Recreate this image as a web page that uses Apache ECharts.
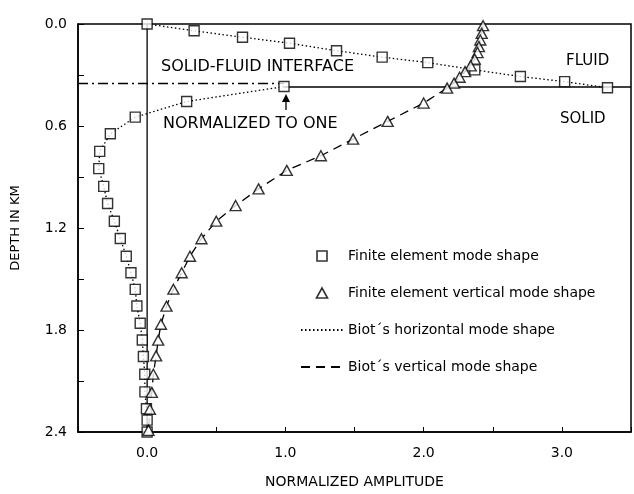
<!DOCTYPE html>
<html>
<head>
<meta charset="utf-8">
<script src="https://cdn.jsdelivr.net/npm/echarts@6/dist/echarts.min.js"></script>
<style>
html,body{margin:0;padding:0;background:#fff;}
#chart{width:634px;height:494px;}
</style>
</head>
<body>
<div id="chart"></div>
<script>
// ---- data ----
const seriesNames = ['Finite element mode shape', 'Finite element vertical mode shape', 'Biot\u00B4s horizontal mode shape', 'Biot\u00B4s vertical mode shape'];
const xTickLabels = ['0.0', '1.0', '2.0', '3.0'];
const yTickLabels = ['0.0', '0.6', '1.2', '1.8', '2.4'];

// finite element (horizontal) mode shape, squares — fluid layer
const sqFluidAmp   = [0, 0.34, 0.69, 1.03, 1.37, 1.70, 2.03, 2.37, 2.70, 3.02, 3.33];
const sqFluidDepth = [0, 0.04, 0.078, 0.113, 0.157, 0.195, 0.227, 0.27, 0.309, 0.339, 0.375];
// squares — solid layer
const sqSolidAmp   = [0.99, 0.286, -0.086, -0.266, -0.343, -0.35, -0.314, -0.286, -0.237, -0.194, -0.151, -0.117, -0.086, -0.074, -0.05, -0.035, -0.027, -0.017, -0.016, -0.005, 0.0, 0.0];
const sqSolidDepth = [0.368, 0.456, 0.548, 0.646, 0.749, 0.851, 0.955, 1.056, 1.16, 1.262, 1.366, 1.463, 1.561, 1.659, 1.76, 1.859, 1.956, 2.06, 2.164, 2.263, 2.33, 2.40];

// finite element vertical mode shape, triangles
const triAmp   = [2.43, 2.42, 2.41, 2.40, 2.39, 2.37, 2.34, 2.30, 2.26, 2.22, 2.17,
                  2.0, 1.74, 1.49, 1.257, 1.01, 0.806, 0.64, 0.50, 0.393, 0.31, 0.25, 0.19, 0.14, 0.10, 0.08, 0.065, 0.045, 0.034, 0.02, 0.01];
const triDepth = [0.01, 0.055, 0.094, 0.133, 0.168, 0.207, 0.246, 0.28, 0.313, 0.348, 0.377,
                  0.465, 0.573, 0.677, 0.775, 0.861, 0.97, 1.068, 1.16, 1.263, 1.366, 1.463, 1.56, 1.66, 1.766, 1.86, 1.952, 2.06, 2.167, 2.266, 2.39];

// Biot horizontal mode shape (dotted), fluid and solid branches
const biotHFluidAmp   = [0, 0.34, 0.69, 1.03, 1.37, 1.70, 2.03, 2.37, 2.70, 3.02, 3.33];
const biotHFluidDepth = [0, 0.04, 0.078, 0.113, 0.157, 0.195, 0.227, 0.27, 0.309, 0.339, 0.375];
const biotHSolidAmp   = [0.99, 0.286, -0.086, -0.266, -0.343, -0.35, -0.314, -0.286, -0.237, -0.194, -0.151, -0.117, -0.086, -0.074, -0.05, -0.035, -0.027, -0.017, -0.016, -0.005, 0.0, 0.0];
const biotHSolidDepth = [0.368, 0.456, 0.548, 0.646, 0.749, 0.851, 0.955, 1.056, 1.16, 1.262, 1.366, 1.463, 1.561, 1.659, 1.76, 1.859, 1.956, 2.06, 2.164, 2.263, 2.33, 2.40];

// Biot vertical mode shape (dashed)
const biotVAmp   = [2.43, 2.40, 2.37, 2.30, 2.22, 2.17, 2.0, 1.74, 1.49, 1.257, 1.01, 0.806, 0.64, 0.50, 0.393, 0.31, 0.25, 0.19, 0.14, 0.10, 0.08, 0.065, 0.045, 0.034, 0.02, 0.01];
const biotVDepth = [0.01, 0.133, 0.207, 0.28, 0.348, 0.377, 0.465, 0.573, 0.677, 0.775, 0.861, 0.97, 1.068, 1.16, 1.263, 1.366, 1.463, 1.56, 1.66, 1.766, 1.86, 1.952, 2.06, 2.167, 2.266, 2.39];

// interface and reference lines
const interfaceLeftAmp = [-0.5, 0.99];
const interfaceLeftDepth = [0.35, 0.35];
const interfaceRightAmp = [0.99, 3.5];
const interfaceRightDepth = [0.37, 0.37];
const zeroLineAmp = [0, 0];
const zeroLineDepth = [0, 2.4];

// ---- build ----
const zip = (a, b) => a.map((v, i) => [v, b[i]]);
const FONT = 'DejaVu Sans';
const chart = echarts.init(document.getElementById('chart'), null, {renderer: 'canvas'});

const option = {
  backgroundColor: '#fff',
  animation: false,
  textStyle: {fontFamily: FONT, color: '#000'},
  grid: {left: 78, right: 1, top: 24, bottom: 61, show: true, borderColor: '#000', borderWidth: 1.5, backgroundColor: 'transparent'},
  xAxis: {
    type: 'value', min: -0.5, max: 3.5, interval: 0.5,
    name: 'NORMALIZED AMPLITUDE', nameLocation: 'middle', nameGap: 43,
    nameTextStyle: {fontFamily: FONT, fontSize: 14, color: '#000'},
    axisLine: {show: true, onZero: false, lineStyle: {color: '#000', width: 1.5}},
    axisTick: {show: true, inside: true, length: 5, lineStyle: {color: '#000', width: 1}},
    axisLabel: {
      margin: 14, fontFamily: FONT, fontSize: 14, color: '#000',
      formatter: v => { const s = v.toFixed(1); return xTickLabels.indexOf(s) >= 0 ? s : ''; }
    },
    splitLine: {show: false}
  },
  yAxis: {
    type: 'value', inverse: true, min: 0, max: 2.4, interval: 0.3,
    name: 'DEPTH IN KM', nameLocation: 'middle', nameGap: 56,
    nameTextStyle: {fontFamily: FONT, fontSize: 13, color: '#000'},
    axisLine: {show: true, onZero: false, lineStyle: {color: '#000', width: 1.5}},
    axisTick: {show: true, inside: true, length: 6, lineStyle: {color: '#000', width: 1}},
    axisLabel: {
      margin: 11, fontFamily: FONT, fontSize: 14, color: '#000',
      formatter: v => { const s = v.toFixed(1); return yTickLabels.indexOf(s) >= 0 ? s : ''; }
    },
    splitLine: {show: false}
  },
  legend: {
    orient: 'vertical', left: 300, top: 249, padding: 0,
    itemWidth: 42, itemHeight: 10, itemGap: 23,
    textStyle: {fontFamily: FONT, fontSize: 14, color: '#000'},
    symbolKeepAspect: true,
    data: [
      {name: seriesNames[0], icon: 'path://M0,0H10V10H0Z', itemStyle: {color: '#fff', borderColor: '#000', borderWidth: 1.6}},
      {name: seriesNames[1], icon: 'path://M5,0L10,9L0,9Z', itemStyle: {color: '#fff', borderColor: '#000', borderWidth: 1.6}},
      {name: seriesNames[2], itemStyle: {opacity: 0}},
      {name: seriesNames[3], itemStyle: {opacity: 0}}
    ],
    selectedMode: false
  },
  series: [
    {type: 'line', data: zip(zeroLineAmp, zeroLineDepth), showSymbol: false, symbol: 'none', silent: true,
     lineStyle: {color: '#000', width: 1.3}, z: 1},
    {type: 'line', data: zip(interfaceLeftAmp, interfaceLeftDepth), symbol: 'none', silent: true,
     lineStyle: {color: '#000', width: 1.3, type: [10, 4, 2, 4]}, z: 1},
    {type: 'line', data: zip(interfaceRightAmp, interfaceRightDepth), symbol: 'none', silent: true,
     lineStyle: {color: '#000', width: 1.5}, z: 1},
    {name: seriesNames[2], type: 'line', data: zip(biotHFluidAmp, biotHFluidDepth), symbol: 'none',
     lineStyle: {color: '#000', width: 1.3, type: [1.5, 2.5]}, itemStyle: {color: '#000'}, z: 2},
    {name: seriesNames[2], type: 'line', data: zip(biotHSolidAmp, biotHSolidDepth), symbol: 'none',
     lineStyle: {color: '#000', width: 1.3, type: [1.5, 2.5]}, itemStyle: {color: '#000'}, z: 2},
    {name: seriesNames[3], type: 'line', data: zip(biotVAmp, biotVDepth), symbol: 'none',
     lineStyle: {color: '#000', width: 1.3, type: [9, 6]}, itemStyle: {color: '#000'}, z: 2},
    {name: seriesNames[0], type: 'scatter', data: zip(sqFluidAmp, sqFluidDepth).concat(zip(sqSolidAmp, sqSolidDepth)),
     symbol: 'rect', symbolSize: 10,
     itemStyle: {color: '#fff', borderColor: '#000', borderWidth: 1.4}, z: 3},
    {name: seriesNames[1], type: 'scatter', data: zip(triAmp, triDepth),
     symbol: 'triangle', symbolSize: [11, 10],
     itemStyle: {color: '#fff', borderColor: '#000', borderWidth: 1.4}, z: 4}
  ],
  graphic: [
    {type: 'text', x: 161, y: 67, style: {text: 'SOLID-FLUID INTERFACE', font: '16px "DejaVu Sans"', fill: '#000', verticalAlign: 'middle'}},
    {type: 'text', x: 163, y: 124, style: {text: 'NORMALIZED TO ONE', font: '16px "DejaVu Sans"', fill: '#000', verticalAlign: 'middle'}},
    {type: 'text', x: 566, y: 61, style: {text: 'FLUID', font: '15px "DejaVu Sans"', fill: '#000', verticalAlign: 'middle'}},
    {type: 'text', x: 560, y: 119, style: {text: 'SOLID', font: '15px "DejaVu Sans"', fill: '#000', verticalAlign: 'middle'}},
    {type: 'line', shape: {x1: 286, y1: 100, x2: 286, y2: 110}, style: {stroke: '#000', lineWidth: 1.3}},
    {type: 'polygon', shape: {points: [[286, 94], [282, 102], [290, 102]]}, style: {fill: '#000'}}
  ]
};
chart.setOption(option);
</script>
</body>
</html>
